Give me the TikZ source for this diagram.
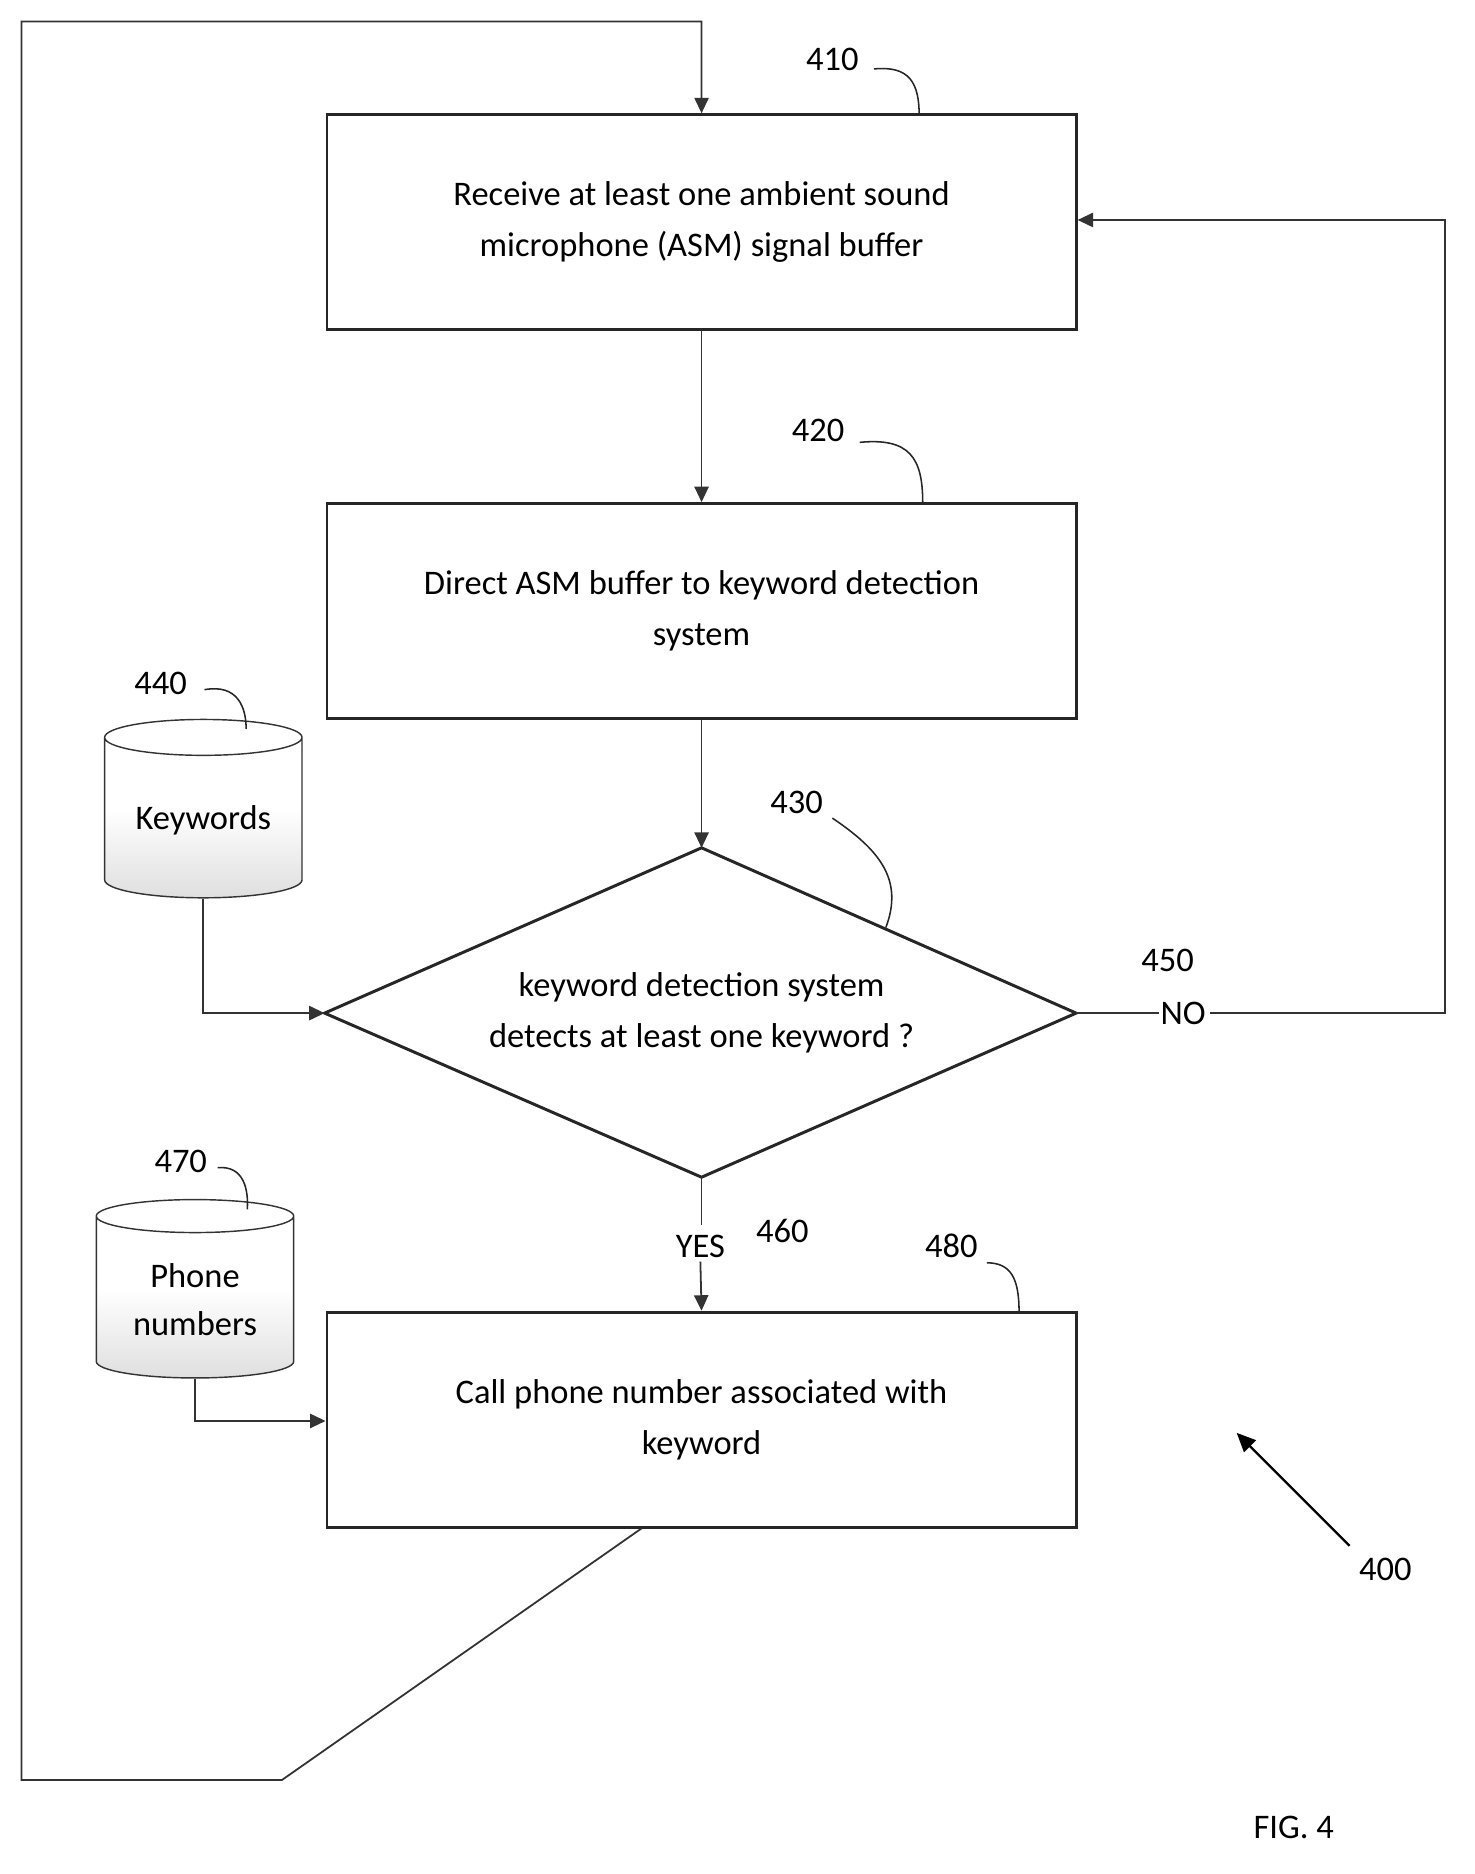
\documentclass[tikz,border=0pt]{standalone}
\usepackage{fontspec}
\setmainfont{Carlito}
\usetikzlibrary{shapes.geometric,arrows.meta}
\begin{document}
\begin{tikzpicture}[x=1pt,y=-1pt,
  box/.style={draw=black!85,line width=2.5pt,minimum width=630pt,minimum height=181pt,align=center,font=\fontsize{29}{43}\selectfont,inner sep=0},
  db/.style={cylinder,shape border rotate=90,draw=black!80,line width=1.2pt,aspect=0.25,minimum width=166pt,minimum height=150pt,align=center,font=\fontsize{29}{41}\selectfont,bottom color=gray!25,top color=white,middle color=white,shading angle=0},
  arr/.style={draw=black!80,line width=1.5pt,-{Triangle[length=13pt,width=12pt]}},
  ln/.style={draw=black!80,line width=1.5pt},
  lab/.style={font=\fontsize{29}{35}\selectfont},
  lead/.style={draw=black!85,line width=1.3pt}]
\useasboundingbox (0,0) rectangle (1240,1576);
\node[box] (b410) at (590,187) {Receive at least one ambient sound\\microphone  (ASM) signal buffer};
\node[box] (b420) at (590,514) {Direct ASM buffer to keyword detection\\system};
\node[box] (b480) at (590,1194) {Call phone number associated with\\keyword};
\coordinate (dt) at (590,713); \coordinate (db) at (590,990);
\coordinate (dl) at (273,852); \coordinate (dr) at (905,852);
\draw[draw=black!85,line width=2.5pt] (dt)--(dr)--(db)--(dl)--cycle;
\node[align=center,font=\fontsize{29}{43}\selectfont] (dtext) at (590,852) {keyword detection system\\detects at least one keyword ?};
\node[db] (kw) at (171,690) {Keywords};
\node[db] (ph) at (164,1093) {Phone\\numbers};
\draw[arr] (b410) -- (b420);
\draw[arr] (b420) -- (dt);
\draw[arr] (kw.bottom) |- (dl);
\draw[ln] (dr) -- (975,852);
\node[lab] (no) at (995,852) {NO};
\coordinate (c1) at (1215,852); \coordinate (c2) at (1215,185);
\draw[arr] (no.east) -- (c1) -- (c2) -- (b410.east|-c2);
\draw[ln] (db) -- (590,1030);
\node[lab] (yes) at (589,1048) {YES};
\draw[arr] (yes.south) -- (b480.north);
\draw[arr] (ph.bottom) |- (b480.west|-0,1195);
\coordinate (l1) at (540,1285); \coordinate (l2) at (237,1497); \coordinate (l3) at (18,1497); \coordinate (l4) at (18,18); \coordinate (l5) at (590,18);
\draw[arr] (l1)--(l2)--(l3)--(l4)--(l5)--(b410.north);
\node[lab] at (982,808) {450};
\node[lab] at (658,1035) {460};
\node[lab] (n410) at (700,50) {410};
\draw[lead] (735,58) .. controls (765,55) and (773,70) .. (773,97);
\node[lab] (n420) at (688,362) {420};
\draw[lead] (723,372) .. controls (765,368) and (776,385) .. (776,423);
\node[lab] (n440) at (135,575) {440};
\draw[lead] (172,580) .. controls (200,575) and (207,595) .. (207,613);
\node[lab] (n430) at (670,675) {430};
\draw[lead] (700,688) .. controls (740,715) and (760,740) .. (745,780);
\node[lab] (n470) at (152,977) {470};
\draw[lead] (183,982) .. controls (205,980) and (209,1000) .. (208,1017);
\node[lab] (n480) at (800,1048) {480};
\draw[lead] (830,1062) .. controls (850,1062) and (857,1075) .. (857,1103);
\node[lab] (n400) at (1165,1320) {400};
\draw[line width=2pt,-{Triangle[length=16pt,width=14pt]}] (1135,1300) -- (1040,1205);
\node[lab] at (1088,1537) {FIG. 4};
\end{tikzpicture}
\end{document}
